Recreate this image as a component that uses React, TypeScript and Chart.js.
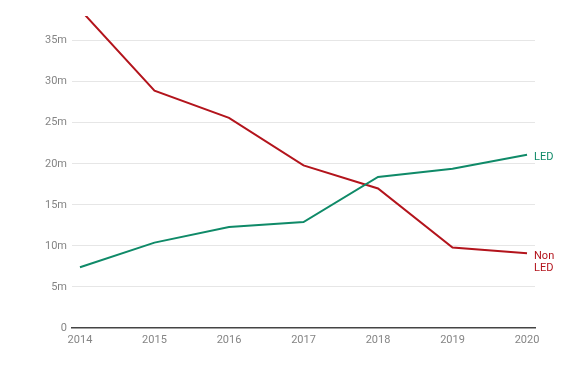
import React, { useEffect, useRef } from "react";
import { Chart, registerables } from "chart.js";

Chart.register(...registerables);

const years = [2014, 2015, 2016, 2017, 2018, 2019, 2020];
const ledValues = [7.4, 10.4, 12.3, 12.9, 18.4, 19.4, 21.1];
const nonLedValues = [38.8, 28.9, 25.6, 19.8, 17.0, 9.8, 9.1];
const yTicks = [0, 5, 10, 15, 20, 25, 30, 35];
const seriesLabels = [["LED"], ["Non", "LED"]];

const GREEN = "#0f8a68";
const RED = "#b3141c";

const endLabels = {
  id: "endLabels",
  afterDatasetsDraw(chart: any) {
    const ctx = chart.ctx;
    ctx.save();
    ctx.font = "11px Roboto";
    ctx.textAlign = "left";
    ctx.textBaseline = "middle";
    chart.data.datasets.forEach((ds: any, i: number) => {
      const meta = chart.getDatasetMeta(i);
      const pt = meta.data[meta.data.length - 1];
      const lines = seriesLabels[i];
      ctx.fillStyle = ds.borderColor;
      lines.forEach((t: string, j: number) => {
        ctx.fillText(t, pt.x + 7, pt.y + 2.5 + j * 12.5);
      });
    });
    ctx.restore();
  },
};

export default function App() {
  const ref = useRef<HTMLCanvasElement>(null);
  useEffect(() => {
    const chart = new Chart(ref.current!, {
      type: "line",
      data: {
        datasets: [
          {
            label: "LED",
            data: years.map((y, i) => ({ x: y, y: ledValues[i] })),
            borderColor: GREEN,
            backgroundColor: GREEN,
            borderWidth: 2,
            pointRadius: 0,
            tension: 0,
          },
          {
            label: "Non LED",
            data: years.map((y, i) => ({ x: y, y: nonLedValues[i] })),
            borderColor: RED,
            backgroundColor: RED,
            borderWidth: 2,
            pointRadius: 0,
            tension: 0,
          },
        ],
      },
      options: {
        responsive: false,
        animation: false,
        layout: { padding: { top: 16, right: 53, left: 0, bottom: 0 } },
        plugins: { legend: { display: false }, tooltip: { enabled: false } },
        scales: {
          x: {
            type: "linear",
            min: 2013.893,
            max: 2020.107,
            afterBuildTicks: (s: any) => {
              s.ticks = years.map((v) => ({ value: v }));
            },
            afterFit: (s: any) => {
              s.height = 40;
            },
            grid: { display: false, drawTicks: false },
            border: { display: true, color: "#444", width: 1.5 },
            ticks: {
              padding: 6,
              color: "#858585",
              font: { family: "Roboto", size: 11 },
              callback: (v: any) => String(v),
              maxRotation: 0,
            },
          },
          y: {
            min: 0,
            max: 38,
            afterBuildTicks: (s: any) => {
              s.ticks = yTicks.map((v) => ({ value: v }));
            },
            afterFit: (s: any) => {
              s.width = 72;
            },
            grid: {
              drawTicks: false,
              color: (c: any) => (c.tick && c.tick.value === 0 ? "rgba(0,0,0,0)" : "#e6e6e6"),
              lineWidth: 1,
            },
            border: { display: false },
            ticks: {
              padding: 5,
              color: "#858585",
              font: { family: "Roboto", size: 11 },
              callback: (v: any) => (v === 0 ? "0" : v + "m"),
            },
          },
        },
      },
      plugins: [endLabels],
    } as any);
    return () => chart.destroy();
  }, []);
  return (
    <div style={{ position: "fixed", left: 0, top: 0, width: 588, height: 368, background: "#fff" }}>
      <canvas ref={ref} width={588} height={368} />
    </div>
  );
}
